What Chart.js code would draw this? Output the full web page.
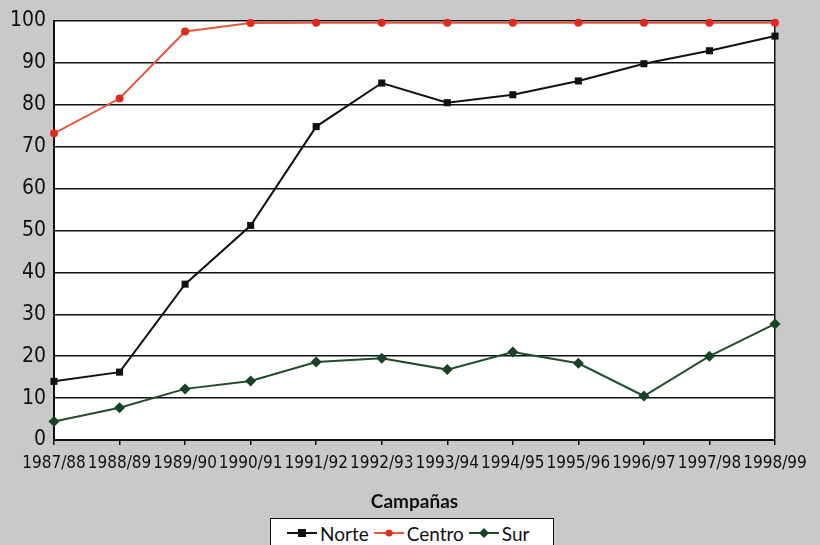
<!DOCTYPE html>
<html>
<head>
<meta charset="utf-8">
<script src="https://cdn.jsdelivr.net/npm/chart.js@4.4.1/dist/chart.umd.min.js"></script>
<style>
  body { margin: 0; background: #c8c9c8; }
  #wrap { position: relative; width: 820px; height: 545px; overflow: hidden; background: #c8c9c8; }
  #legend {
    position: absolute; left: 270px; top: 518px; width: 284px; height: 40px;
    background: #fff; border: 1.5px solid #111; box-sizing: border-box;
    font: 19px Lato, "Open Sans", sans-serif; color: #111;
    display: flex; padding: 2px 0 0 16px; gap: 5px; white-space: nowrap;
  }
  #legend span.item { display: inline-flex; align-items: center; height: 24px; }
  #legend svg { margin-right: 3px; }
</style>
</head>
<body>
<div id="wrap">
  <canvas id="chart" width="820" height="545"></canvas>
  <div id="legend"></div>
</div>
<script>
const campanas = ['1987/88', '1988/89', '1989/90', '1990/91', '1991/92', '1992/93',
  '1993/94', '1994/95', '1995/96', '1996/97', '1997/98', '1998/99'];
const norte = [14, 16.2, 37.2, 51.2, 74.8, 85.2, 80.5, 82.4, 85.7, 89.8, 92.9, 96.4];
const centro = [73.2, 81.5, 97.5, 99.5, 99.6, 99.6, 99.6, 99.6, 99.6, 99.6, 99.6, 99.6];
const sur = [4.4, 7.7, 12.2, 14.1, 18.6, 19.5, 16.8, 21, 18.3, 10.5, 20, 27.7];

const narrow = "'Liberation Sans Narrow', 'DejaVu Sans Condensed', 'DejaVu Sans', sans-serif";

const series = [
  { label: 'Norte', data: norte, color: '#111111', point: 'rect', radius: 5 },
  { label: 'Centro', data: centro, color: '#e5573f', pointColor: '#e02a1c', point: 'circle', radius: 4 },
  { label: 'Sur', data: sur, color: '#1f4d2c', pointColor: '#174226', point: 'rectRot', radius: 5.5 }
];

const plotBg = {
  id: 'plotBg',
  beforeDraw(chart) {
    const a = chart.chartArea, c = chart.ctx;
    c.save();
    c.fillStyle = '#ffffff';
    c.fillRect(a.left, a.top, a.right - a.left, a.bottom - a.top);
    c.restore();
  }
};

new Chart(document.getElementById('chart'), {
  type: 'line',
  data: {
    labels: campanas,
    datasets: series.map(s => ({
      label: s.label,
      data: s.data,
      borderColor: s.color,
      borderWidth: 2,
      pointStyle: s.point,
      pointRadius: s.radius,
      pointBackgroundColor: s.pointColor || s.color,
      pointBorderColor: s.pointColor || s.color,
      pointBorderWidth: 0,
      tension: 0,
      clip: false
    }))
  },
  options: {
    responsive: false,
    animation: false,
    layout: { padding: { left: 0, right: 45, top: 21, bottom: 32 } },
    plugins: { legend: { display: false }, tooltip: { enabled: false } },
    scales: {
      x: {
        offset: false,
        grid: {
          drawOnChartArea: true,
          color: ctx => ctx.index === campanas.length - 1 ? '#111' : 'rgba(0,0,0,0)',
          tickColor: '#111',
          lineWidth: 1.5,
          tickLength: 5
        },
        border: { color: '#111', width: 2 },
        ticks: { color: '#111', font: { family: narrow, size: 17, style: 'condensed' }, maxRotation: 0, autoSkip: false, padding: 8 },
        title: {
          display: true, text: 'Campañas', color: '#111',
          font: { family: 'Lato, "Open Sans", sans-serif', size: 19, weight: 'bold' },
          padding: { top: 4, bottom: 0 }
        },
        afterFit: s => { s.height = 73; }
      },
      y: {
        min: 0, max: 100,
        ticks: { stepSize: 10, color: '#111', font: { family: narrow, size: 21, style: 'condensed' }, padding: 8 },
        grid: { color: '#111', lineWidth: 1.5, drawTicks: false },
        border: { color: '#111', width: 2 },
        afterFit: s => { s.width = 54; }
      }
    }
  },
  plugins: [plotBg]
});

// HTML legend
const legend = document.getElementById('legend');
series.forEach(s => {
  const fill = s.pointColor || s.color;
  let marker;
  if (s.point === 'rect') marker = `<rect x="11" y="5" width="8" height="8" fill="${fill}"/>`;
  else if (s.point === 'circle') marker = `<circle cx="15" cy="9" r="3.5" fill="${fill}"/>`;
  else marker = `<polygon points="15,4 20,9 15,14 10,9" fill="${fill}"/>`;
  const item = document.createElement('span');
  item.className = 'item';
  item.innerHTML = `<svg width="30" height="18"><line x1="0" y1="9" x2="30" y2="9" stroke="${s.color}" stroke-width="2"/>${marker}</svg>${s.label}`;
  legend.appendChild(item);
});
</script>
</body>
</html>
